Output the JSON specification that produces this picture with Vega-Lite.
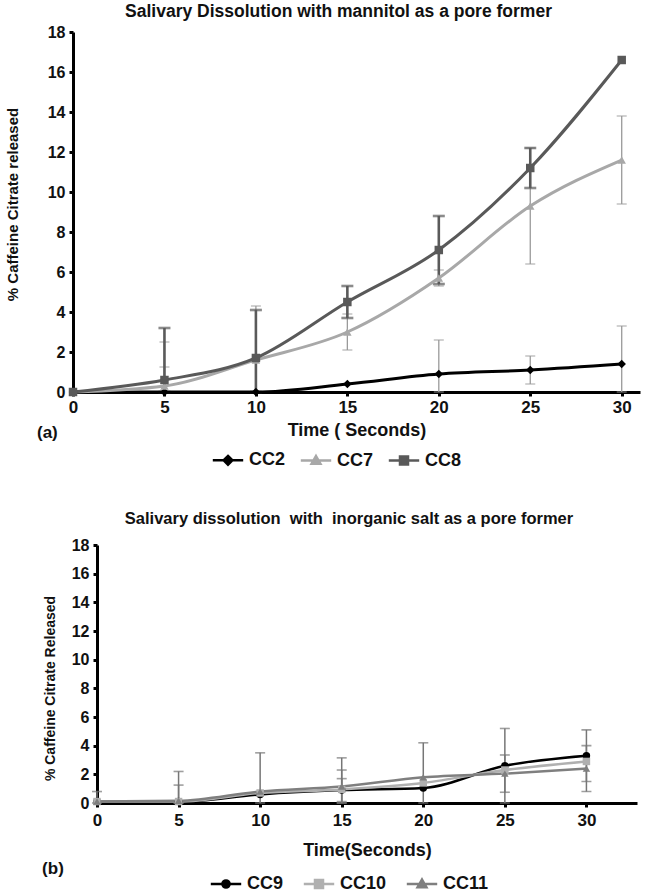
{
  "$schema": "https://vega.github.io/schema/vega-lite/v6.json",
  "background": "white",
  "padding": {"left": 5, "top": 2, "right": 5, "bottom": 2},
  "spacing": 40,
  "config": {
    "font": "Liberation Sans",
    "view": {"stroke": null},
    "axis": {
      "grid": false,
      "domainColor": "#000000",
      "domainWidth": 3,
      "tickColor": "#000000",
      "tickWidth": 3,
      "tickSize": 4,
      "labelFont": "Liberation Sans",
      "labelFontWeight": "bold",
      "labelFontSize": 16,
      "labelColor": "#111111",
      "labelFlush": false,
      "titleFont": "Liberation Sans",
      "titleFontWeight": "bold",
      "titleFontSize": 18,
      "titleColor": "#111111"
    },
    "axisX": {"labelFontSize": 17},
    "legend": {
      "orient": "none",
      "direction": "horizontal",
      "title": null,
      "labelFont": "Liberation Sans",
      "labelFontWeight": "bold",
      "labelFontSize": 18,
      "labelColor": "#111111",
      "symbolSize": 64,
      "symbolStrokeWidth": 2.5,
      "labelOffset": 12,
      "columnPadding": 14
    },
    "title": {"font": "Liberation Sans", "fontWeight": "bold", "color": "#111111", "anchor": "middle"}
  },
  "datasets": {
    "mannitol": [
      {"series": "CC2", "t": 0, "v": 0},
      {"series": "CC2", "t": 5, "v": 0, "lo": 0, "hi": 1.25},
      {"series": "CC2", "t": 10, "v": 0},
      {"series": "CC2", "t": 15, "v": 0.4},
      {"series": "CC2", "t": 20, "v": 0.9, "lo": 0, "hi": 2.6},
      {"series": "CC2", "t": 25, "v": 1.1, "lo": 0.4, "hi": 1.8},
      {"series": "CC2", "t": 30, "v": 1.4, "lo": 0, "hi": 3.3},
      {"series": "CC7", "t": 0, "v": 0},
      {"series": "CC7", "t": 5, "v": 0.3, "lo": 0, "hi": 2.5},
      {"series": "CC7", "t": 10, "v": 1.6, "lo": 0, "hi": 4.3},
      {"series": "CC7", "t": 15, "v": 3.0, "lo": 2.1, "hi": 3.9},
      {"series": "CC7", "t": 20, "v": 5.7, "lo": 5.3, "hi": 6.1},
      {"series": "CC7", "t": 25, "v": 9.3, "lo": 6.4, "hi": 12.2},
      {"series": "CC7", "t": 30, "v": 11.6, "lo": 9.4, "hi": 13.8},
      {"series": "CC8", "t": 0, "v": 0},
      {"series": "CC8", "t": 5, "v": 0.6, "lo": 0, "hi": 3.2},
      {"series": "CC8", "t": 10, "v": 1.7, "lo": 0, "hi": 4.1},
      {"series": "CC8", "t": 15, "v": 4.5, "lo": 3.7, "hi": 5.3},
      {"series": "CC8", "t": 20, "v": 7.1, "lo": 5.4, "hi": 8.8},
      {"series": "CC8", "t": 25, "v": 11.2, "lo": 10.2, "hi": 12.2},
      {"series": "CC8", "t": 30, "v": 16.6}
    ],
    "salt": [
      {"series": "CC9", "t": 0, "v": 0.1},
      {"series": "CC9", "t": 5, "v": 0.1},
      {"series": "CC9", "t": 10, "v": 0.6},
      {"series": "CC9", "t": 15, "v": 0.9, "lo": 0.1, "hi": 1.7},
      {"series": "CC9", "t": 20, "v": 1.05},
      {"series": "CC9", "t": 25, "v": 2.6, "lo": 0, "hi": 5.2},
      {"series": "CC9", "t": 30, "v": 3.3, "lo": 1.5, "hi": 5.1},
      {"series": "CC10", "t": 0, "v": 0.1},
      {"series": "CC10", "t": 5, "v": 0.1, "lo": 0, "hi": 1.25},
      {"series": "CC10", "t": 10, "v": 0.7},
      {"series": "CC10", "t": 15, "v": 0.95, "lo": 0, "hi": 2.3},
      {"series": "CC10", "t": 20, "v": 1.4},
      {"series": "CC10", "t": 25, "v": 2.3},
      {"series": "CC10", "t": 30, "v": 2.9},
      {"series": "CC11", "t": 0, "v": 0.1, "lo": 0, "hi": 0.8},
      {"series": "CC11", "t": 5, "v": 0.15, "lo": 0, "hi": 2.2},
      {"series": "CC11", "t": 10, "v": 0.8, "lo": 0, "hi": 3.5},
      {"series": "CC11", "t": 15, "v": 1.15, "lo": 0, "hi": 3.15},
      {"series": "CC11", "t": 20, "v": 1.8, "lo": 0, "hi": 4.2},
      {"series": "CC11", "t": 25, "v": 2.05, "lo": 0.75, "hi": 3.35},
      {"series": "CC11", "t": 30, "v": 2.4, "lo": 0.8, "hi": 4.0}
    ]
  },
  "resolve": {"scale": {"x": "independent", "y": "independent", "color": "independent", "shape": "independent", "fill": "independent", "stroke": "independent"}},
  "vconcat": [
    {
      "width": 567,
      "height": 360,
      "title": {"text": "Salivary Dissolution with mannitol as a pore former", "fontSize": 17.5, "offset": 4, "dx": -18},
      "data": {"name": "mannitol"},
      "resolve": {"scale": {"shape": "independent", "fill": "independent", "stroke": "independent"}},
      "encoding": {
        "x": {
          "field": "t", "type": "quantitative",
          "scale": {"domain": [0, 31], "nice": false, "zero": false},
          "axis": {"values": [0, 5, 10, 15, 20, 25, 30], "title": "Time ( Seconds)", "labelPadding": 3, "titlePadding": 6}
        }
      },
      "layer": [
        {
          "transform": [{"filter": "datum.series !== 'CC8' && isValid(datum.hi)"}],
          "mark": {"type": "errorbar", "rule": {"color": "#9a9a9a", "strokeWidth": 1.3}, "ticks": {"color": "#9a9a9a", "size": 10, "thickness": 1.3}},
          "encoding": {
            "y": {"field": "lo", "type": "quantitative", "scale": {"domain": [0, 18], "nice": false}, "axis": {"values": [0, 2, 4, 6, 8, 10, 12, 14, 16, 18], "title": "% Caffeine Citrate released", "titleFontSize": 15, "titlePadding": 27, "labelPadding": 4, "titleY": 172}},
            "y2": {"field": "hi"}
          }
        },
        {
          "transform": [{"filter": "datum.series === 'CC8' && isValid(datum.hi)"}],
          "mark": {"type": "errorbar", "rule": {"color": "#5a5a5a", "strokeWidth": 2.6}, "ticks": {"color": "#5a5a5a", "size": 12, "thickness": 2.6}},
          "encoding": {
            "y": {"field": "lo", "type": "quantitative", "scale": {"domain": [0, 18], "nice": false}, "axis": {"values": [0, 2, 4, 6, 8, 10, 12, 14, 16, 18], "title": "% Caffeine Citrate released", "titleFontSize": 15, "titlePadding": 27, "labelPadding": 4, "titleY": 172}},
            "y2": {"field": "hi"}
          }
        },
        {
          "mark": {"type": "line", "interpolate": "monotone", "strokeWidth": 3},
          "encoding": {
            "y": {"field": "v", "type": "quantitative", "scale": {"domain": [0, 18], "nice": false}, "axis": {"values": [0, 2, 4, 6, 8, 10, 12, 14, 16, 18], "title": "% Caffeine Citrate released", "titleFontSize": 15, "titlePadding": 27, "labelPadding": 4, "titleY": 172}},
            "color": {"field": "series", "type": "nominal", "scale": {"domain": ["CC2", "CC7", "CC8"], "range": ["#000000", "#a8a8a8", "#595959"]}, "legend": null}
          }
        },
        {
          "mark": {"type": "point", "filled": true, "opacity": 1, "size": 72},
          "encoding": {
            "y": {"field": "v", "type": "quantitative", "scale": {"domain": [0, 18], "nice": false}, "axis": {"values": [0, 2, 4, 6, 8, 10, 12, 14, 16, 18], "title": "% Caffeine Citrate released", "titleFontSize": 15, "titlePadding": 27, "labelPadding": 4, "titleY": 172}},
            "color": {"field": "series", "type": "nominal", "scale": {"domain": ["CC2", "CC7", "CC8"], "range": ["#000000", "#a8a8a8", "#595959"]}, "legend": null},
            "shape": {"field": "series", "type": "nominal", "scale": {"domain": ["CC2", "CC7", "CC8"], "range": ["diamond", "triangle-up", "square"]}, "legend": null}
          }
        },
        {
          "transform": [{"filter": "false"}],
          "mark": {"type": "point", "filled": true, "opacity": 1, "strokeWidth": 2.5},
          "encoding": {
            "y": {"field": "v", "type": "quantitative", "scale": {"domain": [0, 18], "nice": false}, "axis": {"values": [0, 2, 4, 6, 8, 10, 12, 14, 16, 18], "title": "% Caffeine Citrate released", "titleFontSize": 15, "titlePadding": 27, "labelPadding": 4, "titleY": 172}},
            "fill": {"field": "series", "type": "nominal", "scale": {"domain": ["CC2", "CC7", "CC8"], "range": ["#000000", "#a8a8a8", "#595959"]}, "legend": {"legendX": 146, "legendY": 419, "columnPadding": 9}},
            "stroke": {"field": "series", "type": "nominal", "scale": {"domain": ["CC2", "CC7", "CC8"], "range": ["#000000", "#a8a8a8", "#595959"]}, "legend": {"legendX": 146, "legendY": 419, "columnPadding": 9}},
            "shape": {"field": "series", "type": "nominal", "scale": {"domain": ["CC2", "CC7", "CC8"], "range": ["M-3.8,0H3.8M0,-1.1L1.1,0L0,1.1L-1.1,0Z", "M-3.8,0H3.8M0,-1.1L1.1,0.8L-1.1,0.8Z", "M-3.8,0H3.8M-1,-1H1V1H-1Z"]}, "legend": {"legendX": 146, "legendY": 419, "columnPadding": 9}}
          }
        },
        {
          "data": {"values": [{"label": "(a)", "t": -1.4, "v": -2.05}]},
          "mark": {"type": "text", "fontWeight": "bold", "fontSize": 17, "color": "#111111", "align": "center", "baseline": "middle"},
          "encoding": {
            "y": {"field": "v", "type": "quantitative", "scale": {"domain": [0, 18], "nice": false}, "axis": {"values": [0, 2, 4, 6, 8, 10, 12, 14, 16, 18], "title": "% Caffeine Citrate released", "titleFontSize": 15, "titlePadding": 27, "labelPadding": 4, "titleY": 172}},
            "text": {"field": "label"}
          }
        }
      ]
    },
    {
      "width": 564,
      "height": 258,
      "title": {"text": "Salivary dissolution \u00a0with \u00a0inorganic salt as a pore former", "fontSize": 16.5, "offset": 10, "dx": -6},
      "data": {"name": "salt"},
      "resolve": {"scale": {"shape": "independent", "fill": "independent", "stroke": "independent"}},
      "encoding": {
        "x": {
          "field": "t", "type": "quantitative",
          "scale": {"domain": [0, 33.1], "range": [24, 564], "nice": false, "zero": false},
          "axis": {"values": [0, 5, 10, 15, 20, 25, 30], "title": "Time(Seconds)", "labelPadding": 5, "titlePadding": 13}
        }
      },
      "layer": [
        {
          "transform": [{"filter": "isValid(datum.hi)"}],
          "mark": {"type": "errorbar", "rule": {"color": "#767676", "strokeWidth": 1.5}, "ticks": {"color": "#767676", "size": 10, "thickness": 1.6}},
          "encoding": {
            "y": {"field": "lo", "type": "quantitative", "scale": {"domain": [0, 18], "nice": false}, "axis": {"values": [0, 2, 4, 6, 8, 10, 12, 14, 16, 18], "title": "% Caffeine Citrate Released", "titleFontSize": 14, "titlePadding": 14, "labelPadding": 4, "offset": -24, "titleY": 143}},
            "y2": {"field": "hi"}
          }
        },
        {
          "mark": {"type": "line", "interpolate": "monotone", "strokeWidth": 2.5},
          "encoding": {
            "y": {"field": "v", "type": "quantitative", "scale": {"domain": [0, 18], "nice": false}, "axis": {"values": [0, 2, 4, 6, 8, 10, 12, 14, 16, 18], "title": "% Caffeine Citrate Released", "titleFontSize": 14, "titlePadding": 14, "labelPadding": 4, "offset": -24, "titleY": 143}},
            "color": {"field": "series", "type": "nominal", "scale": {"domain": ["CC9", "CC10", "CC11"], "range": ["#000000", "#b0b0b0", "#7f7f7f"]}, "legend": null}
          }
        },
        {
          "mark": {"type": "point", "filled": true, "opacity": 1, "size": 56},
          "encoding": {
            "y": {"field": "v", "type": "quantitative", "scale": {"domain": [0, 18], "nice": false}, "axis": {"values": [0, 2, 4, 6, 8, 10, 12, 14, 16, 18], "title": "% Caffeine Citrate Released", "titleFontSize": 14, "titlePadding": 14, "labelPadding": 4, "offset": -24, "titleY": 143}},
            "color": {"field": "series", "type": "nominal", "scale": {"domain": ["CC9", "CC10", "CC11"], "range": ["#000000", "#b0b0b0", "#7f7f7f"]}, "legend": null},
            "shape": {"field": "series", "type": "nominal", "scale": {"domain": ["CC9", "CC10", "CC11"], "range": ["circle", "square", "triangle-up"]}, "legend": null}
          }
        },
        {
          "transform": [{"filter": "false"}],
          "mark": {"type": "point", "filled": true, "opacity": 1, "strokeWidth": 2.5},
          "encoding": {
            "y": {"field": "v", "type": "quantitative", "scale": {"domain": [0, 18], "nice": false}, "axis": {"values": [0, 2, 4, 6, 8, 10, 12, 14, 16, 18], "title": "% Caffeine Citrate Released", "titleFontSize": 14, "titlePadding": 14, "labelPadding": 4, "offset": -24, "titleY": 143}},
            "fill": {"field": "series", "type": "nominal", "scale": {"domain": ["CC9", "CC10", "CC11"], "range": ["#000000", "#b0b0b0", "#7f7f7f"]}, "legend": {"legendX": 144, "legendY": 330}},
            "stroke": {"field": "series", "type": "nominal", "scale": {"domain": ["CC9", "CC10", "CC11"], "range": ["#000000", "#b0b0b0", "#7f7f7f"]}, "legend": {"legendX": 144, "legendY": 330}},
            "shape": {"field": "series", "type": "nominal", "scale": {"domain": ["CC9", "CC10", "CC11"], "range": ["M-3.8,0H3.8M-0.9,0A0.9,0.9 0 1,0 0.9,0A0.9,0.9 0 1,0 -0.9,0Z", "M-3.8,0H3.8M-1,-1H1V1H-1Z", "M-3.8,0H3.8M0,-1.1L1.1,0.8L-1.1,0.8Z"]}, "legend": {"legendX": 144, "legendY": 330}}
          }
        },
        {
          "data": {"values": [{"label": "(b)", "t": -2.7, "v": -4.6}]},
          "mark": {"type": "text", "fontWeight": "bold", "fontSize": 17, "color": "#111111", "align": "center", "baseline": "middle"},
          "encoding": {
            "y": {"field": "v", "type": "quantitative", "scale": {"domain": [0, 18], "nice": false}, "axis": {"values": [0, 2, 4, 6, 8, 10, 12, 14, 16, 18], "title": "% Caffeine Citrate Released", "titleFontSize": 14, "titlePadding": 14, "labelPadding": 4, "offset": -24, "titleY": 143}},
            "text": {"field": "label"}
          }
        }
      ]
    }
  ]
}
